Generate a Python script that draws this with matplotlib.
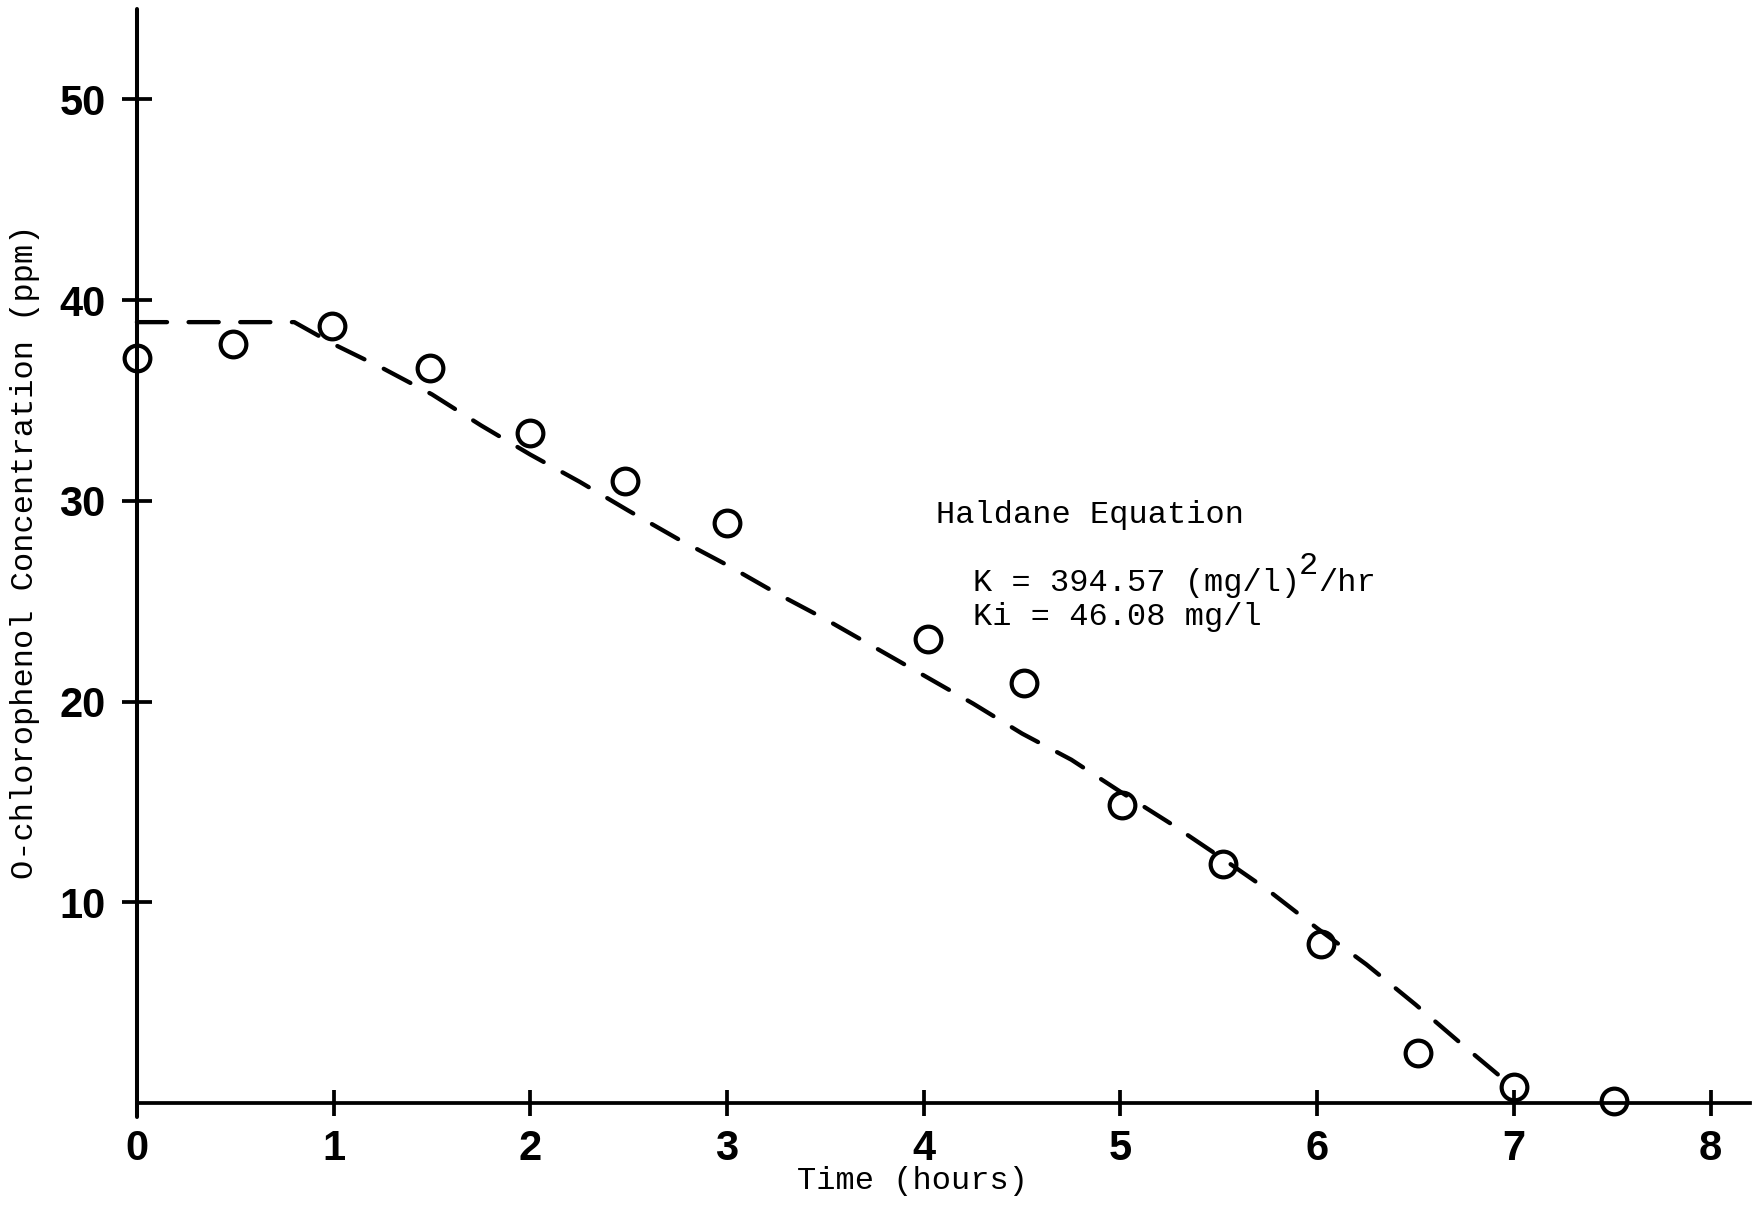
import matplotlib
matplotlib.use("Agg")
import matplotlib.pyplot as plt

# ---- data ----
t_obs = [0.0, 0.49, 0.99, 1.49, 2.0, 2.48, 3.0, 4.02, 4.51, 5.01, 5.52, 6.02, 6.51, 7.0, 7.51]
c_obs = [37.1, 37.8, 38.7, 36.6, 33.4, 31.0, 28.9, 23.1, 20.9, 14.85, 11.9, 7.9, 2.5, 0.8, 0.1]

t_fit = [0.0, 0.8, 1.0, 1.25, 1.5, 1.75, 2.0, 2.25, 2.5, 2.75, 3.0, 3.25, 3.5, 3.75,
         4.0, 4.25, 4.5, 4.75, 5.0, 5.25, 5.5, 5.75, 6.0, 6.25, 6.5, 6.75, 7.0]
c_fit = [38.9, 38.9, 37.8, 36.6, 35.3, 33.75, 32.3, 30.95, 29.5, 28.1, 26.8, 25.4, 24.1, 22.7,
         21.3, 19.9, 18.4, 17.1, 15.5, 13.95, 12.3, 10.6, 8.7, 6.9, 4.9, 2.8, 0.75]

x_ticks = [0, 1, 2, 3, 4, 5, 6, 7, 8]
y_ticks = [10, 20, 30, 40, 50]
y_ticklabels = ["10", "20", "30", "40", "50"]

x_label = "Time (hours)"
y_label = "O-chlorophenol Concentration (ppm)"
note_title = "Haldane Equation"
note_k = "K = 394.57 (mg/l)"
note_k_sup = "2"
note_k_tail = "/hr"
note_ki = "Ki = 46.08 mg/l"

MONO = "Liberation Mono"
HAND = "Liberation Sans"
fs_mono = 23
char_w = 0.6 * fs_mono  # advance of one monospace character, in points

W, H = 1759, 1207
fig = plt.figure(figsize=(W / 100, H / 100), dpi=100)
fig.patch.set_facecolor("white")

ax = fig.add_axes([136.9 / W, 1 - 1117 / H, (1750 - 136.9) / W, (1117 - 9) / H])
ax.set_xlim(0, 8.2)
ax.set_ylim(-0.7, 54.5)

for s in ("top", "right"):
    ax.spines[s].set_visible(False)
ax.spines["bottom"].set_position(("data", 0))
ax.spines["left"].set_linewidth(2.9)
ax.spines["bottom"].set_linewidth(2.7)
ax.spines["left"].set_capstyle("round")

# model (dashed) line
ax.plot(t_fit, c_fit, color="black", lw=3.1, linestyle=(0, (7.0, 5.0)),
        dash_capstyle="round", solid_capstyle="round", clip_on=False, zorder=2)

# observations (open circles)
ax.plot(t_obs, c_obs, linestyle="none", marker="o", ms=18.5, mfc="none",
        mec="black", mew=3.0, clip_on=False, zorder=3)

# ticks
ax.set_xticks(x_ticks)
ax.set_xticklabels([str(v) for v in x_ticks])
ax.set_yticks(y_ticks)
ax.set_yticklabels(y_ticklabels)
ax.tick_params(axis="x", direction="inout", length=19, width=2.7, pad=9)
ax.tick_params(axis="y", direction="inout", length=21, width=2.7, pad=12)
for lab in ax.get_xticklabels() + ax.get_yticklabels():
    lab.set_fontfamily(HAND)
    lab.set_fontweight("bold")
    lab.set_fontsize(30)
# hide the x tick mark at 0 (the y axis sits there)
ax.xaxis.get_major_ticks()[0].tick1line.set_visible(False)

# axis labels (typewriter)
fig.text(912 / W, 1 - 1181 / H, x_label, family=MONO, fontsize=fs_mono,
         ha="center", va="center")
fig.text(25 / W, 1 - 552 / H, y_label, family=MONO, fontsize=fs_mono,
         rotation=90, ha="center", va="center")

# annotation
ax.text(4.06, 28.9, note_title, family=MONO, fontsize=fs_mono, ha="left", va="baseline")
ax.text(4.25, 25.5, note_k, family=MONO, fontsize=fs_mono, ha="left", va="baseline")
ax.annotate(note_k_sup, xy=(4.25, 25.5), xytext=(17 * char_w, 12),
            textcoords="offset points", family=MONO, fontsize=fs_mono,
            ha="left", va="baseline")
ax.annotate(note_k_tail, xy=(4.25, 25.5), xytext=(18 * char_w, 0),
            textcoords="offset points", family=MONO, fontsize=fs_mono,
            ha="left", va="baseline")
ax.text(4.25, 23.8, note_ki, family=MONO, fontsize=fs_mono, ha="left", va="baseline")

fig.savefig("out.png", dpi=100, facecolor="white")
